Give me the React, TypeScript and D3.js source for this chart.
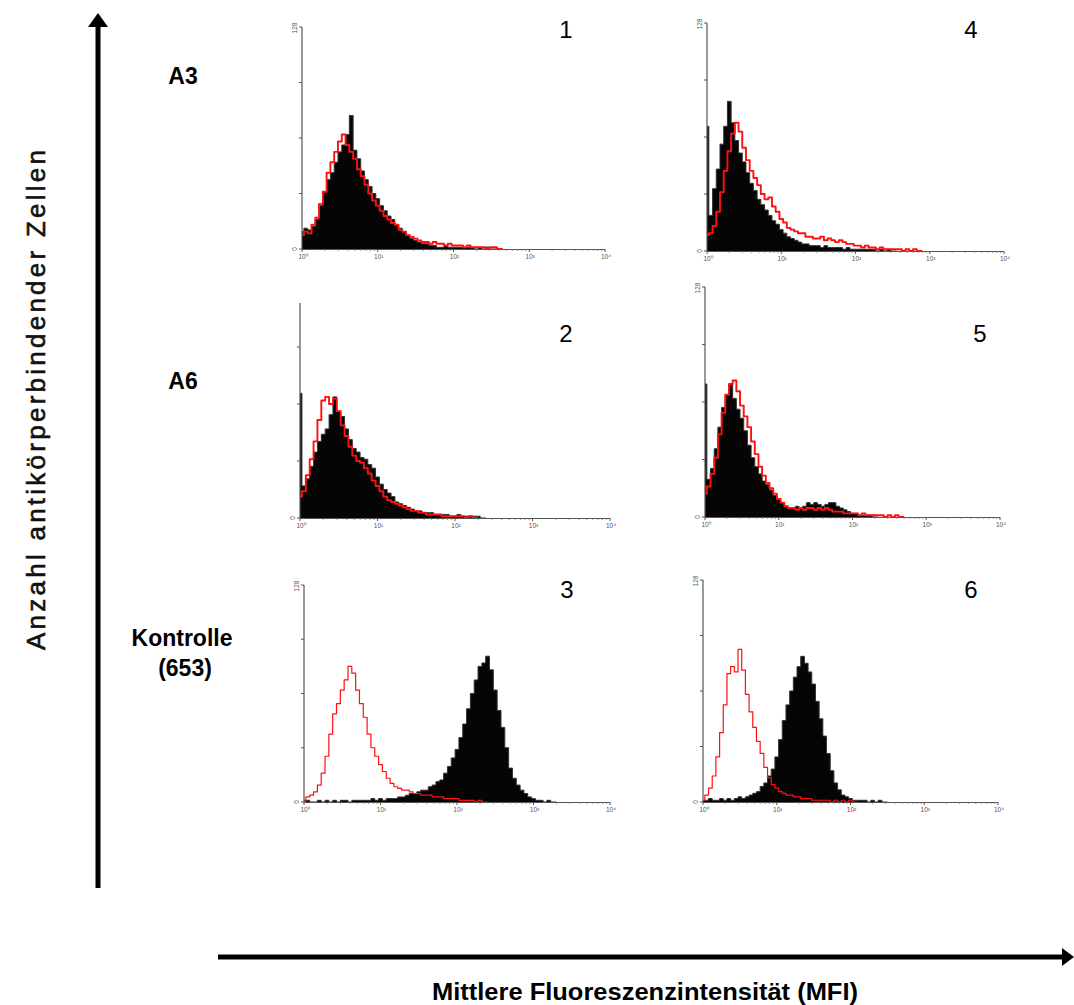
import React from 'react';
import * as d3 from 'd3';

// channel groups: each value covers 0.05 decade, starting at 10^0
const BIN_STEP = 0.05;
const decadeValues = [1, 10, 100, 1000, 10000];
const decadeLabels = ['10⁰', '10¹', '10²', '10³', '10⁴'];
const countTicks = [0, 32, 64, 96, 128];
const countMin = '0';
const countMax = '128';
const panelNumbers = ['1', '2', '3', '4', '5', '6'];
const rowLabelA3 = ['A3'];
const rowLabelA6 = ['A6'];
const rowLabelCtrl = ['Kontrolle', '(653)'];
const yTitle = 'Anzahl antikörperbindender Zellen';
const xTitle = 'Mittlere Fluoreszenzintensität (MFI)';

// Panel 1 (A3, left)
const p1Black = [10, 12, 11, 13, 17, 25, 33, 40, 44, 50, 56, 60, 66, 77, 57, 52, 45, 40, 36, 32, 29, 25, 22, 19, 17, 14, 12, 10, 8, 6, 5, 4, 3, 3, 2, 2, 1, 1, 2, 1, 1, 1, 1, 1, 1, 1, 0, 1, 0, 1, 0, 0];
const p1Red = [8, 10, 9, 14, 18, 26, 33, 44, 50, 56, 62, 66, 60, 56, 52, 46, 42, 37, 32, 28, 25, 22, 19, 17, 15, 14, 11, 10, 8, 7, 6, 5, 4, 4, 3, 4, 3, 3, 2, 3, 2, 2, 2, 1, 2, 1, 1, 1, 1, 0, 1, 1, 0];
// Panel 2 (A6, left)
const p2Black = [70, 18, 22, 29, 37, 43, 47, 50, 58, 68, 60, 57, 50, 44, 39, 37, 34, 33, 30, 28, 23, 19, 16, 14, 12, 9, 8, 7, 6, 5, 4, 4, 3, 3, 3, 2, 2, 2, 2, 1, 1, 2, 1, 1, 1, 1, 1, 0];
const p2Red = [12, 15, 24, 33, 43, 55, 66, 68, 64, 67, 60, 52, 46, 40, 35, 32, 31, 28, 25, 21, 18, 15, 12, 10, 9, 8, 7, 6, 5, 4, 4, 3, 3, 2, 2, 2, 2, 1, 1, 1, 1, 1, 1, 0, 1, 0];
// Panel 3 (Kontrolle, left)
const p3Black = [0, 1, 0, 0, 1, 0, 1, 0, 1, 0, 1, 1, 0, 1, 1, 1, 1, 1, 2, 1, 2, 1, 2, 2, 2, 3, 3, 4, 5, 5, 6, 7, 7, 9, 10, 12, 13, 17, 21, 26, 31, 38, 46, 55, 64, 72, 80, 82, 86, 78, 66, 54, 44, 32, 20, 14, 10, 7, 5, 3, 2, 1, 1, 0, 1, 0];
const p3Red = [1, 3, 4, 6, 10, 17, 27, 40, 52, 58, 66, 72, 80, 76, 66, 58, 50, 40, 32, 27, 22, 18, 14, 11, 9, 8, 7, 7, 6, 5, 5, 4, 4, 4, 3, 3, 3, 2, 2, 2, 2, 1, 1, 1, 1, 0, 1, 0];
// Panel 4 (A3, right)
const p4Black = [70, 20, 35, 46, 60, 70, 84, 72, 62, 55, 50, 44, 38, 34, 29, 26, 23, 20, 17, 15, 12, 10, 8, 7, 6, 5, 4, 4, 3, 3, 3, 2, 3, 2, 2, 2, 2, 1, 2, 1, 1, 1, 1, 1, 1, 1, 0, 1, 0, 1, 0];
const p4Red = [9, 10, 14, 22, 33, 45, 56, 66, 72, 67, 58, 51, 45, 41, 37, 32, 29, 30, 25, 22, 18, 16, 13, 12, 11, 10, 10, 8, 8, 7, 7, 8, 6, 7, 6, 5, 6, 5, 4, 4, 3, 3, 2, 3, 2, 2, 1, 2, 1, 1, 1, 1, 1, 0, 1, 0, 1, 0];
// Panel 5 (A6, right)
const p5Black = [74, 21, 27, 38, 50, 61, 68, 74, 66, 60, 55, 48, 40, 33, 28, 24, 20, 18, 15, 12, 10, 8, 6, 5, 5, 6, 5, 6, 8, 7, 8, 7, 6, 7, 8, 8, 6, 5, 4, 3, 2, 2, 1, 1, 1, 1, 0];
const p5Red = [13, 17, 24, 33, 46, 58, 68, 74, 76, 70, 62, 56, 50, 42, 35, 28, 23, 19, 16, 13, 10, 8, 6, 5, 5, 4, 5, 4, 5, 5, 4, 5, 4, 5, 4, 3, 3, 3, 2, 2, 2, 2, 1, 2, 1, 1, 1, 1, 1, 0, 1, 0, 1, 0];
// Panel 6 (Kontrolle, right)
const p6Black = [1, 1, 2, 1, 1, 2, 1, 2, 1, 2, 3, 2, 3, 4, 5, 6, 9, 11, 15, 19, 26, 36, 47, 56, 64, 72, 78, 84, 80, 75, 68, 58, 48, 38, 28, 18, 11, 7, 4, 3, 2, 1, 1, 1, 1, 0, 1, 0, 1, 0];
const p6Red = [1, 4, 8, 15, 26, 40, 56, 74, 78, 75, 88, 76, 62, 52, 43, 35, 28, 20, 14, 10, 8, 6, 5, 4, 4, 3, 3, 2, 2, 2, 1, 1, 1, 1, 1, 0, 1, 0, 1, 0, 1, 0];

type PanelCfg = {
  label: string;
  x0: number; x1: number; base: number; top: number; axisTop: number;
  nx: number; ny: number; showMax: boolean; redWidth: number;
  black: number[]; red: number[];
};

const panels: PanelCfg[] = [
  { label: panelNumbers[0], x0: 302, x1: 605, base: 249, top: 27, axisTop: 27, nx: 566, ny: 38, showMax: true, redWidth: 1.9, black: p1Black, red: p1Red },
  { label: panelNumbers[1], x0: 300, x1: 610, base: 518, top: 290, axisTop: 303, nx: 566, ny: 342, showMax: false, redWidth: 1.9, black: p2Black, red: p2Red },
  { label: panelNumbers[2], x0: 304, x1: 610, base: 802, top: 585, axisTop: 585, nx: 567, ny: 598, showMax: true, redWidth: 1.2, black: p3Black, red: p3Red },
  { label: panelNumbers[3], x0: 707, x1: 1004, base: 251, top: 23, axisTop: 23, nx: 971, ny: 38, showMax: true, redWidth: 1.9, black: p4Black, red: p4Red },
  { label: panelNumbers[4], x0: 705, x1: 1000, base: 517, top: 287, axisTop: 287, nx: 980, ny: 342, showMax: true, redWidth: 1.9, black: p5Black, red: p5Red },
  { label: panelNumbers[5], x0: 703, x1: 998, base: 802, top: 580, axisTop: 580, nx: 971, ny: 598, showMax: true, redWidth: 1.2, black: p6Black, red: p6Red },
];

const SANS = "'Liberation Sans', Arial, Helvetica, sans-serif";

function Panel({ cfg }: { cfg: PanelCfg }) {
  const x = d3.scaleLog().domain([1, 10000]).range([cfg.x0, cfg.x1]);
  const y = d3.scaleLinear().domain([0, 128]).range([cfg.base, cfg.top]);
  const toPts = (arr: number[]) => {
    const pts: [number, number][] = arr.map((v, i) => [x(Math.pow(10, i * BIN_STEP)), y(v)]);
    const lastX = x(Math.pow(10, arr.length * BIN_STEP));
    pts.push([lastX, y(0)]);
    return pts;
  };
  const area = d3.area<[number, number]>().x(d => d[0]).y0(cfg.base).y1(d => d[1]).curve(d3.curveStep);
  const line = d3.line<[number, number]>().x(d => d[0]).y(d => d[1]).curve(d3.curveStep);
  const bPts = toPts(cfg.black);
  const rPts = toPts(cfg.red);

  const minor: number[] = [];
  for (let d = 0; d < 4; d++) for (let k = 2; k <= 9; k++) minor.push(k * Math.pow(10, d));

  return (
    <g>
      {/* histograms */}
      <path d={area(bPts) || ''} fill="#050505" />
      <path d={line(bPts) || ''} fill="none" stroke="#333" strokeWidth={1} />
      <path d={line(rPts) || ''} fill="none" stroke="#ff1010" strokeWidth={cfg.redWidth} strokeLinejoin="round" />
      {/* axes */}
      <line x1={cfg.x0} x2={cfg.x0} y1={cfg.axisTop} y2={cfg.base} stroke="#555" strokeWidth={1.2} />
      <line x1={cfg.x0} x2={cfg.x1} y1={cfg.base + 0.5} y2={cfg.base + 0.5} stroke="#555" strokeWidth={1.2} />
      {countTicks.map((c) => {
        const yy = y(c);
        if (yy < cfg.axisTop - 0.5) return null;
        return <line key={'yt' + c} x1={cfg.x0 - 3} x2={cfg.x0} y1={yy} y2={yy} stroke="#555" strokeWidth={1} />;
      })}
      {decadeValues.map((v) => (
        <line key={'xt' + v} x1={x(v)} x2={x(v)} y1={cfg.base} y2={cfg.base + 3} stroke="#555" strokeWidth={1} />
      ))}
      {minor.map((v) => (
        <line key={'xm' + v} x1={x(v)} x2={x(v)} y1={cfg.base} y2={cfg.base + 2} stroke="#777" strokeWidth={0.8} />
      ))}
      {decadeValues.map((v, i) => (
        <text key={'xl' + v} x={x(v) + 1} y={cfg.base + 10} fontSize={6.5} fill="#555" textAnchor="middle" fontFamily={SANS}>
          {decadeLabels[i]}
        </text>
      ))}
      <text transform={`translate(${cfg.x0 - 5},${cfg.base}) rotate(-90)`} fontSize={6.5} fill="#555" textAnchor="middle" fontFamily={SANS}>
        {countMin}
      </text>
      {cfg.showMax && (
        <text transform={`translate(${cfg.x0 - 5},${cfg.top + 1}) rotate(-90)`} fontSize={6.5} fill="#555" textAnchor="middle" fontFamily={SANS}>
          {countMax}
        </text>
      )}
      <text x={cfg.nx} y={cfg.ny} fontSize={24} fill="#000" textAnchor="middle" fontFamily={SANS}>
        {cfg.label}
      </text>
    </g>
  );
}

export default function App() {
  return (
    <svg width={1074} height={1005} style={{ position: 'absolute', left: 0, top: 0, background: '#fff' }}>
      <rect x={0} y={0} width={1074} height={1005} fill="#fff" />
      {/* big axis arrows */}
      <line x1={98} x2={98} y1={888} y2={25} stroke="#000" strokeWidth={5} />
      <polygon points="98,13 88,27 108,27" fill="#000" />
      <line x1={218} x2={1064} y1={957} y2={957} stroke="#000" strokeWidth={5} />
      <polygon points="1074,957 1062,948 1062,966" fill="#000" />

      {/* axis titles */}
      <text
        transform="translate(45,400) rotate(-90)"
        textAnchor="middle"
        fontSize={26}
        fontFamily={SANS}
        fill="#111"
        stroke="#111"
        strokeWidth={0.6}
        textLength={500}
        lengthAdjust="spacing"
      >
        {yTitle}
      </text>
      <text
        x={645}
        y={1000}
        textAnchor="middle"
        fontSize={23}
        fontWeight="bold"
        fontFamily="'Liberation Sans Narrow', 'Arial Narrow', 'Liberation Sans', sans-serif"
        fill="#000"
        textLength={426}
        lengthAdjust="spacingAndGlyphs"
      >
        {xTitle}
      </text>

      {/* row labels */}
      <g fontFamily={SANS} fontWeight="bold" fontSize={23} fill="#000" textAnchor="middle">
        <text x={183} y={84}>{rowLabelA3[0]}</text>
        <text x={183} y={389}>{rowLabelA6[0]}</text>
        <text x={182} y={646}>{rowLabelCtrl[0]}</text>
        <text x={185} y={676}>{rowLabelCtrl[1]}</text>
      </g>

      {panels.map((p) => (
        <Panel key={p.label} cfg={p} />
      ))}
    </svg>
  );
}
